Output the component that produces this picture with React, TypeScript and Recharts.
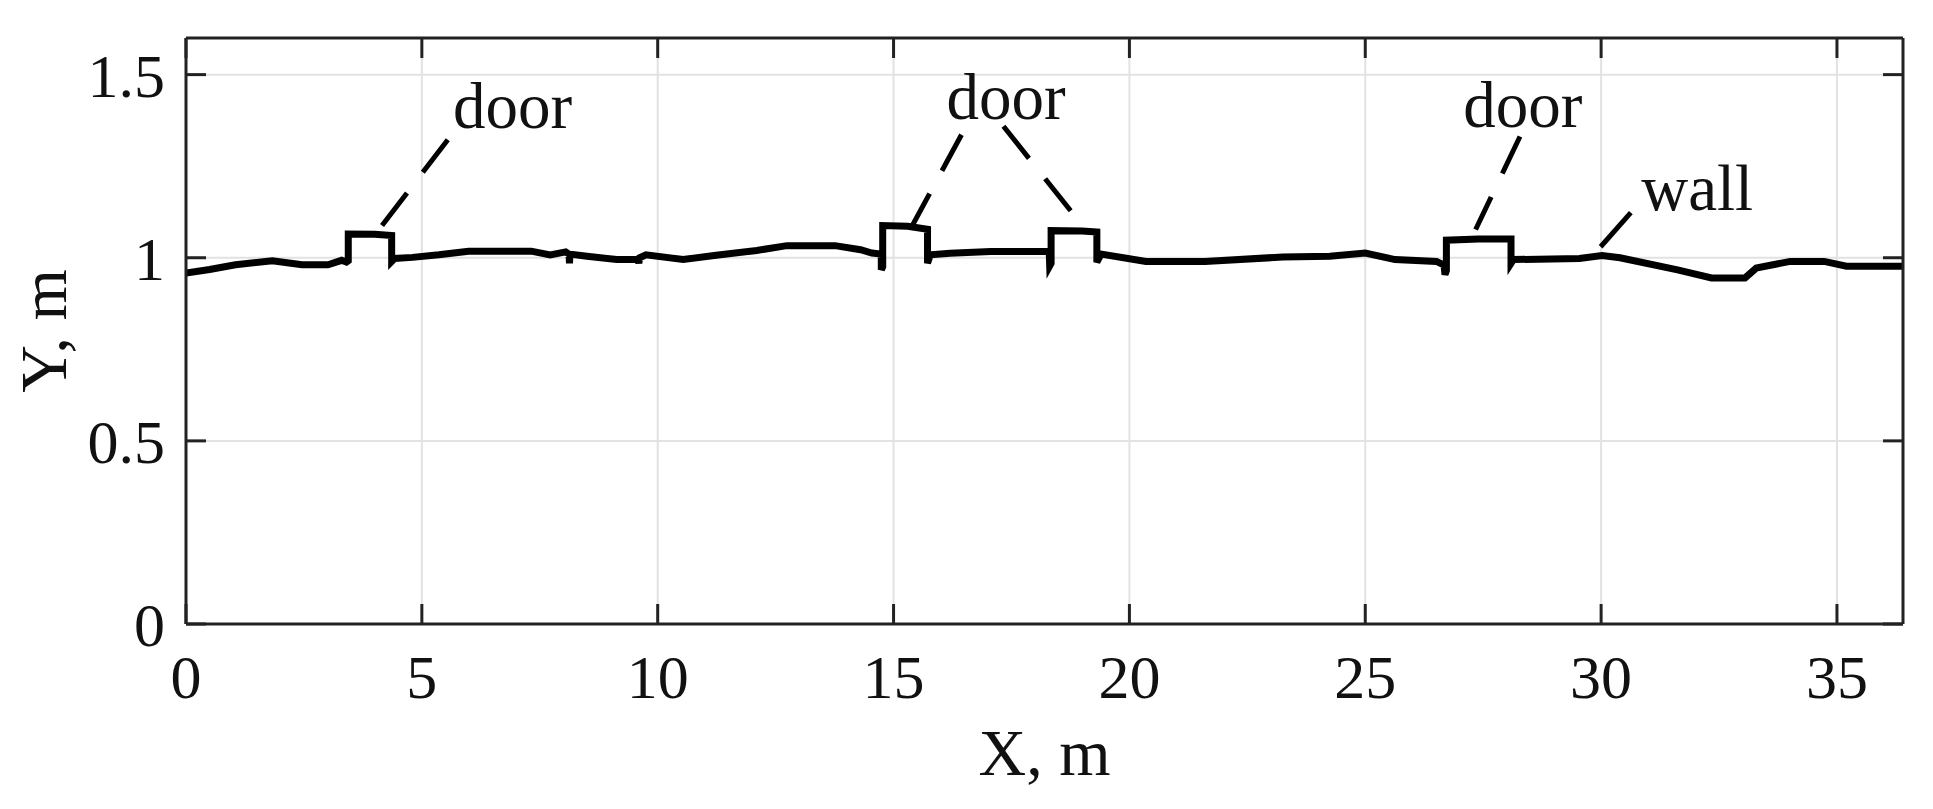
import {
  ComposedChart,
  Line,
  Scatter,
  XAxis,
  YAxis,
  CartesianGrid,
  ReferenceLine,
  Label,
} from 'recharts';

// wall profile (x, y in metres); doubled x values are the door steps
const wallX = [
  0.0, 0.5, 1.05, 1.83, 2.46, 3.01, 3.3, 3.4, 3.44, 3.44, 4.0, 4.36, 4.36, 4.42, 4.8, 5.36, 5.99,
  7.32, 7.72, 8.05, 8.12, 8.13, 8.14, 8.5, 9.13, 9.58, 9.6, 9.62, 9.75, 10.54, 11.24, 12.1, 12.74,
  13.76, 14.3, 14.54, 14.74, 14.74, 14.77, 14.77, 15.3, 15.72, 15.72, 15.78, 16.2, 17.06, 18.3,
  18.31, 18.34, 18.34, 19.0, 19.31, 19.31, 19.4, 20.35, 21.6, 23.25, 24.25, 25.0, 25.63, 26.51,
  26.67, 26.69, 26.72, 26.72, 27.4, 28.09, 28.09, 28.14, 29.54, 30.02, 30.4, 31.62, 32.34, 33.05,
  33.29, 34.01, 34.73, 35.2, 36.4,
];
const wallY = [
  0.958, 0.968, 0.981, 0.992, 0.981, 0.981, 0.993, 0.988, 0.992, 1.065, 1.064, 1.061, 0.99, 0.998,
  1.001, 1.008, 1.018, 1.018, 1.008, 1.016, 1.01, 0.985, 1.01, 1.004, 0.995, 0.996, 0.985, 1.0,
  1.008, 0.995, 1.007, 1.02, 1.033, 1.033, 1.022, 1.013, 1.01, 0.967, 0.975, 1.088, 1.086, 1.078,
  0.985, 1.008, 1.012, 1.017, 1.017, 0.978, 0.985, 1.074, 1.073, 1.07, 0.988, 1.01, 0.99, 0.99,
  1.002, 1.004, 1.013, 0.995, 0.99, 0.98, 0.954, 0.965, 1.048, 1.051, 1.051, 0.985, 0.995, 0.998,
  1.006, 1.0, 0.967, 0.945, 0.945, 0.972, 0.99, 0.99, 0.977, 0.977,
];

const xTicks = [0, 5, 10, 15, 20, 25, 30, 35];
const yTicks = [0, 0.5, 1, 1.5];

// annotation labels: text start x, baseline y
const noteText = ['door', 'door', 'door', 'wall'];
const noteX = [5.66, 16.12, 27.08, 30.85];
const noteY = [1.355, 1.38, 1.358, 1.131];

// leader lines: [x1, y1, x2, y2]
const leaders = [
  [5.55, 1.322, 4.09, 1.077],
  [16.44, 1.336, 15.39, 1.086],
  [17.33, 1.359, 18.83, 1.116],
  [28.28, 1.331, 27.34, 1.077],
];
const wallLeader = [30.63, 1.123, 29.99, 1.03];

const wallData = wallX.map((x, i) => ({ x, y: wallY[i] }));
const noteData = noteText.map((text, i) => ({ x: noteX[i], y: noteY[i], text }));

const SERIF = "'Liberation Serif', 'DejaVu Serif', serif";
const AXIS = '#222';
const TICK_LEN = 20;

function BottomTick({ x, y, payload }: any) {
  return (
    <g>
      <line x1={x} y1={y} x2={x} y2={y - TICK_LEN} stroke={AXIS} strokeWidth={3} />
      <text x={x} y={y + 74} textAnchor="middle" fontSize={62} fontFamily={SERIF} fill="#111">
        {payload.value}
      </text>
    </g>
  );
}

function LeftTick({ x, y, payload }: any) {
  return (
    <g>
      <line x1={x} y1={y} x2={x + TICK_LEN} y2={y} stroke={AXIS} strokeWidth={3} />
      <text x={x - 21} y={y + 22} textAnchor="end" fontSize={62} fontFamily={SERIF} fill="#111">
        {payload.value}
      </text>
    </g>
  );
}

function TopTick({ x, y }: any) {
  return <line x1={x} y1={y} x2={x} y2={y + TICK_LEN} stroke={AXIS} strokeWidth={3} />;
}

function RightTick({ x, y }: any) {
  return <line x1={x} y1={y} x2={x - TICK_LEN} y2={y} stroke={AXIS} strokeWidth={3} />;
}

function NoteText(props: any) {
  return (
    <text x={props.cx} y={props.cy} fontSize={65} fontFamily={SERIF} fill="#111">
      {props.payload.text}
    </text>
  );
}

export default function App() {
  return (
    <div style={{ position: 'absolute', left: 0, top: 0, background: '#fff' }}>
      <ComposedChart width={1933} height={809} margin={{ top: 37, right: 29, left: 0, bottom: 0 }}>
        <CartesianGrid stroke="#e2e2e2" strokeWidth={2} />

        <XAxis
          dataKey="x"
          type="number"
          domain={[0, 36.4]}
          ticks={xTicks}
          allowDataOverflow
          height={185}
          tickSize={0}
          tickMargin={0}
          tickLine={false}
          tick={<BottomTick />}
          axisLine={{ stroke: AXIS, strokeWidth: 3 }}
        >
          <Label
            content={({ viewBox }: any) => (
              <text
                x={viewBox.x + viewBox.width / 2}
                y={viewBox.y + 151}
                textAnchor="middle"
                fontSize={66}
                fontFamily={SERIF}
                fill="#111"
              >
                X, m
              </text>
            )}
          />
        </XAxis>
        <XAxis
          xAxisId="top"
          dataKey="x"
          orientation="top"
          type="number"
          domain={[0, 36.4]}
          ticks={xTicks}
          allowDataOverflow
          height={1}
          tickSize={0}
          tickMargin={0}
          tickLine={false}
          tick={<TopTick />}
          axisLine={{ stroke: AXIS, strokeWidth: 3 }}
        />

        <YAxis
          type="number"
          domain={[0, 1.6]}
          ticks={yTicks}
          allowDataOverflow
          width={186}
          tickSize={0}
          tickMargin={0}
          tickLine={false}
          tick={<LeftTick />}
          axisLine={{ stroke: AXIS, strokeWidth: 3 }}
        >
          <Label
            content={({ viewBox }: any) => {
              const cy = viewBox.y + viewBox.height / 2;
              return (
                <text
                  x={66}
                  y={cy}
                  transform={`rotate(-90, 66, ${cy})`}
                  textAnchor="middle"
                  fontSize={66}
                  fontFamily={SERIF}
                  fill="#111"
                >
                  Y, m
                </text>
              );
            }}
          />
        </YAxis>
        <YAxis
          yAxisId="right"
          orientation="right"
          type="number"
          domain={[0, 1.6]}
          ticks={yTicks}
          allowDataOverflow
          width={1}
          tickSize={0}
          tickMargin={0}
          tickLine={false}
          tick={<RightTick />}
          axisLine={{ stroke: AXIS, strokeWidth: 3 }}
        />

        {leaders.map((s, i) => (
          <ReferenceLine
            key={i}
            segment={[
              { x: s[0], y: s[1] },
              { x: s[2], y: s[3] },
            ]}
            stroke="#000"
            strokeWidth={5}
            strokeDasharray="41 26"
          />
        ))}
        <ReferenceLine
          segment={[
            { x: wallLeader[0], y: wallLeader[1] },
            { x: wallLeader[2], y: wallLeader[3] },
          ]}
          stroke="#000"
          strokeWidth={5}
        />

        <Line
          data={wallData}
          dataKey="y"
          type="linear"
          stroke="#000"
          strokeWidth={7}
          strokeLinejoin="miter"
          dot={false}
          isAnimationActive={false}
        />
        <Scatter data={noteData} dataKey="y" shape={<NoteText />} isAnimationActive={false} />
      </ComposedChart>
    </div>
  );
}
